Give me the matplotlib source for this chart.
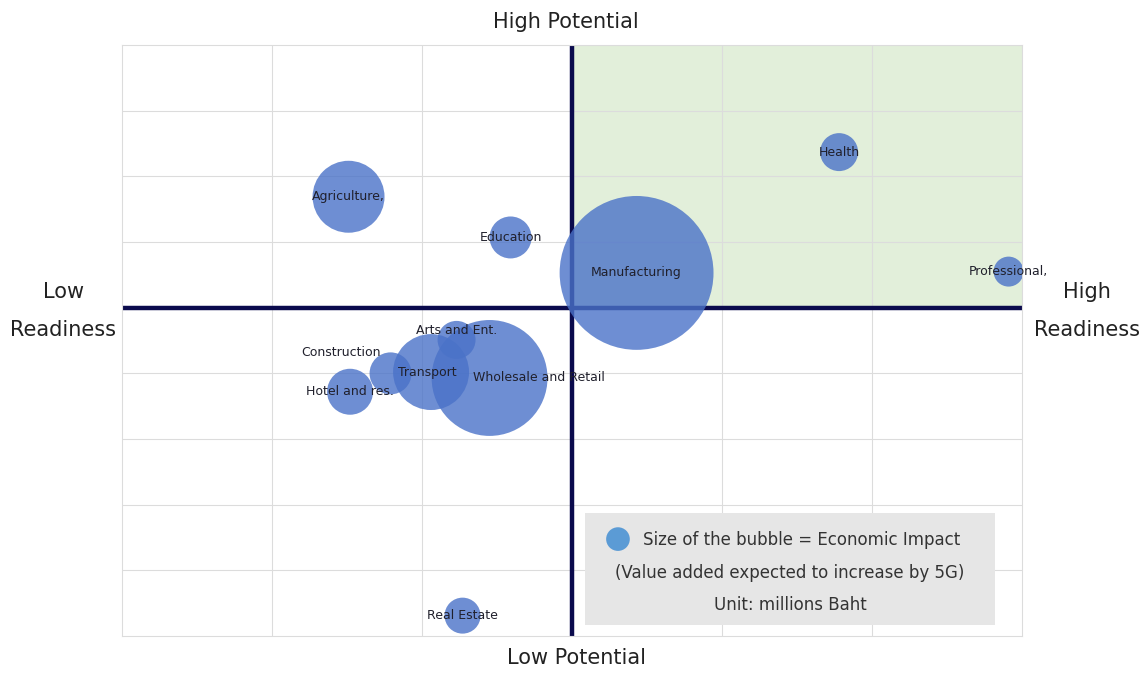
import matplotlib
matplotlib.use("Agg")
from matplotlib import pyplot as plt
from matplotlib.patches import Rectangle

# sector positions on the readiness / potential grid and their economic impact
sectors = ["Agriculture,", "Manufacturing", "Construction", "Wholesale and Retail",
           "Transport", "Hotel and res.", "Arts and Ent.", "Education",
           "Health", "Professional,", "Real Estate"]
readiness = [-1.49, 0.43, -1.21, -0.55, -0.94, -1.48, -0.77, -0.41, 1.78, 2.91, -0.73]
potential = [1.69, 0.53, -1.00, -1.07, -0.98, -1.28, -0.49, 1.07, 2.37, 0.55, -4.69]
impact = [1296, 5929, 441, 3364, 1444, 529, 361, 441, 361, 225, 324]

# label placement (offset in points, horizontal alignment)
label_pos = {
    "Construction": ((-36, 15), "center"),
    "Arts and Ent.": ((0, 7), "center"),
    "Wholesale and Retail": ((-12, 0), "left"),
    "Transport": ((-3, 0), "center"),
}

fig = plt.figure(figsize=(11.47, 6.73), dpi=100)
ax = fig.add_axes([0.1064, 0.055, 0.7847, 0.878])
ax.set_xlim(-3, 3)
ax.set_ylim(-5, 4)

# high readiness / high potential quadrant
ax.add_patch(Rectangle((0, 0), 3, 4, facecolor="#e2efda", edgecolor="none", zorder=0))

ax.set_xticks(range(-2, 3))
ax.set_yticks(range(-4, 4))
ax.grid(True, color="#dcdcdc", linewidth=0.8, zorder=1)
ax.tick_params(length=0, labelbottom=False, labelleft=False)
for sp in ax.spines.values():
    sp.set_color("#dcdcdc")
    sp.set_linewidth(0.8)

ax.axvline(0, color="#0b0b4d", linewidth=3.2, zorder=2)
ax.axhline(0, color="#0b0b4d", linewidth=3.2, zorder=2)

sizes = [2.07 * v for v in impact]
ax.scatter(readiness, potential, s=sizes, color="#4a72c8", alpha=0.8,
           edgecolors="none", zorder=3)

for name, x, y in zip(sectors, readiness, potential):
    off, ha = label_pos.get(name, ((0, 0), "center"))
    ax.annotate(name, (x, y), xytext=off, textcoords="offset points",
                ha=ha, va="center", fontsize=9, color="#20202c", zorder=4)

# legend box
ax.add_patch(Rectangle((0.514, 0.019), 0.456, 0.189, transform=ax.transAxes,
                       facecolor="#e6e6e6", edgecolor="none", zorder=5))
ax.scatter([0.551], [0.164], s=290, color="#5b9bd5", transform=ax.transAxes,
           edgecolors="none", zorder=6)
ax.text(0.579, 0.163, "Size of the bubble = Economic Impact", transform=ax.transAxes,
        ha="left", va="center", fontsize=12, color="#333333", zorder=6)
ax.text(0.742, 0.107, "(Value added expected to increase by 5G)", transform=ax.transAxes,
        ha="center", va="center", fontsize=12, color="#333333", zorder=6)
ax.text(0.742, 0.052, "Unit: millions Baht", transform=ax.transAxes,
        ha="center", va="center", fontsize=12, color="#333333", zorder=6)

# quadrant axis captions
cap = dict(ha="center", va="center", fontsize=15, color="#222222")
fig.text(0.493, 0.968, "High Potential", **cap)
fig.text(0.503, 0.022, "Low Potential", **cap)
fig.text(0.055, 0.538, "Low\nReadiness", linespacing=2.15, **cap)
fig.text(0.948, 0.538, "High\nReadiness", linespacing=2.15, **cap)

fig.savefig("out.png", dpi=100)
plt.close(fig)
